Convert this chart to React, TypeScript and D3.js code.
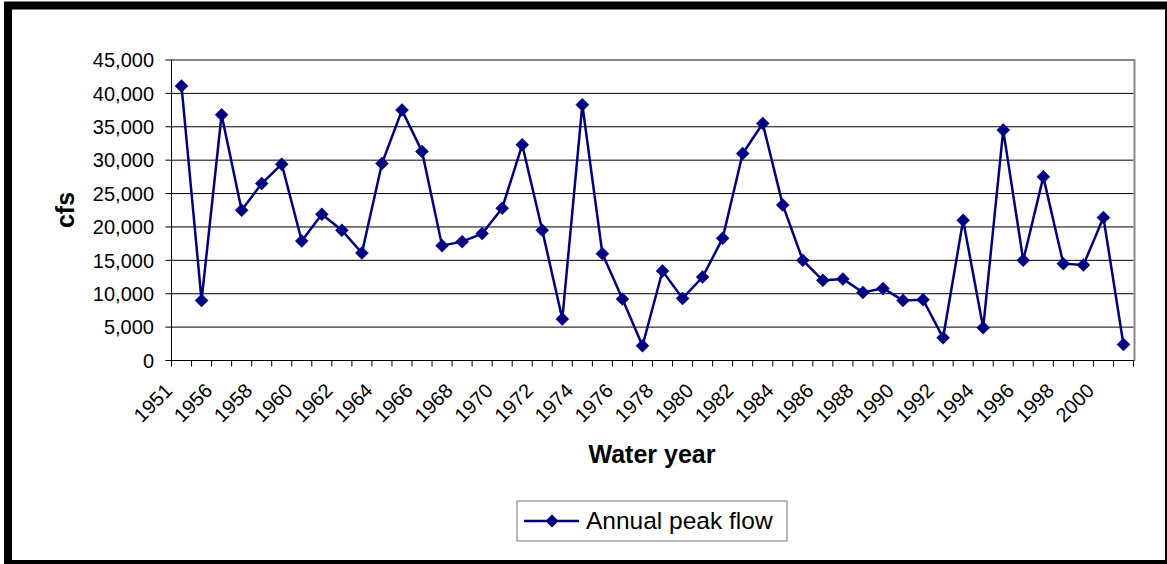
import React from "react";
import * as d3 from "d3";

const years: string[] = [
  "1951", "1955", "1956", "1957", "1958", "1959", "1960", "1961", "1962", "1963",
  "1964", "1965", "1966", "1967", "1968", "1969", "1970", "1971", "1972", "1973",
  "1974", "1975", "1976", "1977", "1978", "1979", "1980", "1981", "1982", "1983",
  "1984", "1985", "1986", "1987", "1988", "1989", "1990", "1991", "1992", "1993",
  "1994", "1995", "1996", "1997", "1998", "1999", "2000", "2001",
];
const peakFlow: number[] = [
  41100, 9000, 36800, 22500, 26500, 29400, 17900, 21900, 19500, 16100,
  29500, 37500, 31300, 17200, 17800, 19000, 22800, 32300, 19500, 6200,
  38300, 16000, 9200, 2200, 13400, 9300, 12500, 18300, 31000, 35500,
  23300, 15000, 12000, 12200, 10200, 10800, 9000, 9100, 3400, 21000,
  4900, 34500, 15000, 27500, 14500, 14300, 21400, 2400,
];
const yTicks: number[] = [0, 5000, 10000, 15000, 20000, 25000, 30000, 35000, 40000, 45000];
const seriesName = "Annual peak flow";
const xTitle = "Water year";
const yTitle = "cfs";

const W = 1167;
const H = 564;
const L = 171.5;
const R = 1133.5;
const T = 60;
const B = 360.5;
const NAVY = "#000080";
const FONT = "Arial, 'Liberation Sans', sans-serif";

export default function App() {
  const x = d3.scaleBand<string>().domain(years).range([L, R]).padding(0);
  const y = d3.scaleLinear().domain([0, 45000]).range([B, T]);
  const cx = (d: string) => (x(d) as number) + x.bandwidth() / 2;
  const line = d3
    .line<number>()
    .x((_, i) => cx(years[i]))
    .y((d) => y(d));
  const diamond = (px: number, py: number, r: number) =>
    `M${px},${py - r}L${px + r},${py}L${px},${py + r}L${px - r},${py}Z`;
  const boundaries = d3.range(years.length + 1).map((i) => L + i * x.bandwidth());

  return (
    <svg
      width={W}
      height={H}
      style={{ position: "absolute", left: 0, top: 0, background: "#fff" }}
      fontFamily={FONT}
    >
      <rect x={0} y={0} width={W} height={H} fill="#fff" />
      <rect x={8} y={5.5} width={1161} height={558.5} fill="none" stroke="#000" strokeWidth={8} />
      {yTicks.map((t) =>
        t === 0 ? null : (
          <line key={t} x1={L} x2={R} y1={y(t)} y2={y(t)} stroke="#000" strokeWidth={1} />
        )
      )}
      <line x1={L} x2={R + 1} y1={T} y2={T} stroke="#888" strokeWidth={2} />
      <line x1={R + 1} x2={R + 1} y1={T - 1} y2={B} stroke="#888" strokeWidth={2} />
      <line x1={L} x2={L} y1={T} y2={B} stroke="#000" strokeWidth={1} />
      <line x1={L} x2={R + 1} y1={B} y2={B} stroke="#000" strokeWidth={1} />
      {yTicks.map((t) => (
        <g key={"yt" + t}>
          <line x1={L - 6} x2={L} y1={y(t)} y2={y(t)} stroke="#000" />
          <text x={154} y={y(t)} dy="0.36em" textAnchor="end" fontSize={20} fill="#000">
            {d3.format(",")(t)}
          </text>
        </g>
      ))}
      {boundaries.map((b, i) => (
        <line key={"xt" + i} x1={b} x2={b} y1={B} y2={B + 6} stroke="#000" />
      ))}
      {years.map((yr, i) =>
        i % 2 === 0 ? (
          <text
            key={"xl" + yr}
            transform={`translate(${cx(yr) - 8},${392}) rotate(-45)`}
            textAnchor="end"
            fontSize={20}
            fill="#000"
          >
            {yr}
          </text>
        ) : null
      )}
      <path d={line(peakFlow) || ""} fill="none" stroke={NAVY} strokeWidth={2.5} strokeLinejoin="miter" />
      {peakFlow.map((v, i) => (
        <path key={"m" + i} d={diamond(cx(years[i]), y(v), 6.5)} fill={NAVY} stroke={NAVY} strokeWidth={0.5} />
      ))}
      <text x={652} y={463} textAnchor="middle" fontSize={25} fontWeight="bold" fill="#000">
        {xTitle}
      </text>
      <text
        transform={`translate(74,210) rotate(-90)`}
        textAnchor="middle"
        fontSize={25}
        fontWeight="bold"
        fill="#000"
      >
        {yTitle}
      </text>
      <rect x={517} y={501} width={270} height={40} fill="#fff" stroke="#777" strokeWidth={1} />
      <line x1={524} x2={579} y1={521} y2={521} stroke={NAVY} strokeWidth={2.5} />
      <path d={diamond(552, 521, 6.5)} fill={NAVY} />
      <text x={586} y={529} fontSize={24.5} fill="#000">
        {seriesName}
      </text>
    </svg>
  );
}
